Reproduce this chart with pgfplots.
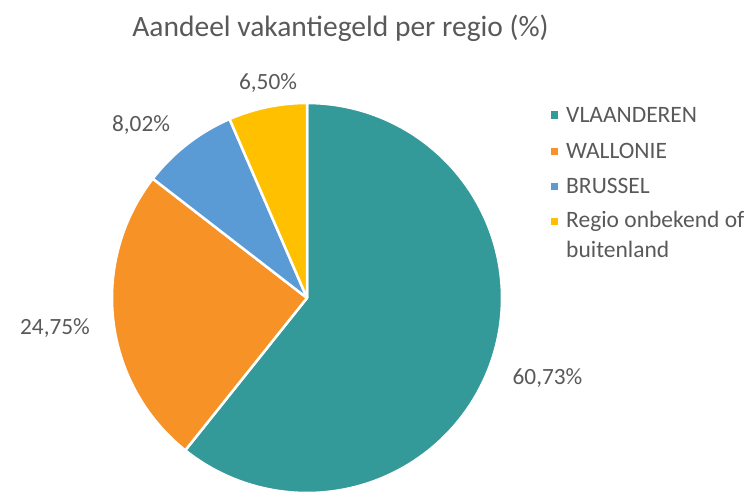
\documentclass[border=0pt]{standalone}
\usepackage{pgfplots}
\usepackage{pgfplotstable}
\pgfplotsset{compat=1.18}
\usepackage{fontspec}
\setmainfont{Carlito}
\definecolor{cV}{HTML}{349999}
\definecolor{cW}{HTML}{F79227}
\definecolor{cB}{HTML}{5B9BD5}
\definecolor{cY}{HTML}{FFC000}
\definecolor{txt}{HTML}{595959}
\pgfplotstableread{
name value col
VLAANDEREN 60.73 cV
WALLONIE 24.75 cW
BRUSSEL 8.02 cB
Regio 6.50 cY
}\piedata
\begin{document}
\begin{tikzpicture}
\begin{axis}[
  hide axis, scale only axis,
  width=754pt, height=491pt,
  xmin=0, xmax=754, ymin=-491, ymax=0,
  clip=true,
]
\def\cum{0}
\pgfplotsforeachungrouped \i in {0,1,2,3}{%
  \pgfplotstablegetelem{\i}{value}\of\piedata \let\v\pgfplotsretval
  \pgfplotstablegetelem{\i}{col}\of\piedata \let\c\pgfplotsretval
  \pgfmathsetmacro\a{90-3.6*\cum}%
  \pgfmathsetmacro\b{90-3.6*(\cum+\v)}%
  \pgfmathsetmacro\cum{\cum+\v}%
  \edef\tmp{\noexpand\addplot[fill=\c, draw=white, line width=2.5pt, line join=round, domain=\b:\a, samples=120] ({307+195*cos(x)},{-298+195*sin(x)}) -- (axis cs:307,-298) -- cycle;}%
  \tmp
}
\path (axis cs:0,0) rectangle (axis cs:754,-491);
\end{axis}
\begin{scope}[every node/.style={text=txt, inner sep=0pt}]
\node[font=\fontsize{29.5}{35}\selectfont] at (340.5pt,{491pt-28pt}) {Aandeel vakantiegeld per regio (\%)};
\node[font=\fontsize{23.3}{28}\selectfont] at (547.5pt,{491pt-378pt}) {60,73\%};
\node[font=\fontsize{23.3}{28}\selectfont] at (55pt,{491pt-328pt}) {24,75\%};
\node[font=\fontsize{23.3}{28}\selectfont] at (141pt,{491pt-125pt}) {8,02\%};
\node[font=\fontsize{23.3}{28}\selectfont] at (268pt,{491pt-83pt}) {6,50\%};
\fill[cV] (551pt,{491pt-118.5pt}) rectangle (558pt,{491pt-111.5pt});
\fill[cW] (551pt,{491pt-154.5pt}) rectangle (558pt,{491pt-147.5pt});
\fill[cB] (551pt,{491pt-189.5pt}) rectangle (558pt,{491pt-182.5pt});
\fill[cY] (551pt,{491pt-225pt}) rectangle (558pt,{491pt-218pt});
\node[anchor=west, font=\fontsize{23.5}{28}\selectfont] at (566pt,{491pt-115pt}) {VLAANDEREN};
\node[anchor=west, font=\fontsize{23.5}{28}\selectfont] at (566pt,{491pt-151pt}) {WALLONIE};
\node[anchor=west, font=\fontsize{23.5}{28}\selectfont] at (566pt,{491pt-186pt}) {BRUSSEL};
\node[anchor=west, font=\fontsize{23.5}{28}\selectfont] at (566pt,{491pt-221pt}) {Regio onbekend of};
\node[anchor=west, font=\fontsize{23.5}{28}\selectfont] at (566pt,{491pt-249pt}) {buitenland};
\end{scope}
\end{tikzpicture}
\end{document}
